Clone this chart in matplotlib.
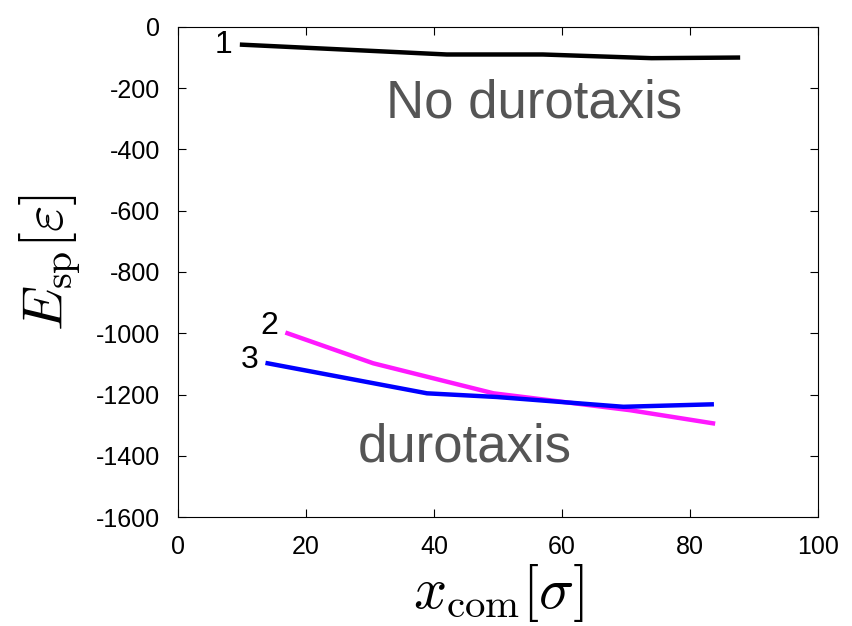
import numpy as np
import matplotlib
matplotlib.use('Agg')
from matplotlib import pyplot as plt

plt.rcParams['font.family'] = ['Liberation Sans', 'DejaVu Sans']
plt.rcParams['mathtext.fontset'] = 'cm'
plt.rcParams['axes.unicode_minus'] = False

# curve 1: no durotaxis
x1 = [10, 42, 57, 74, 87.5]
e1 = [-58, -90, -90, -102, -100]
# curve 2 (magenta)
x2 = [17.1, 30.5, 49.3, 70.6, 83.6]
e2 = [-1000, -1098, -1196, -1251, -1294]
# curve 3 (blue)
x3 = [14, 38.9, 49.8, 69.6, 83.4]
e3 = [-1098, -1196, -1208, -1240, -1232]

fig = plt.figure(figsize=(8.52, 6.26), dpi=100)
ax = fig.add_axes([0.209, 0.174, 0.751, 0.783])

ax.plot(x1, e1, color='black', lw=3.2)
ax.plot(x2, e2, color='#ff00ff', lw=3.2, alpha=0.9)
ax.plot(x3, e3, color='#0000ff', lw=3.2)

ax.text(x1[0] - 1.5, e1[0], '1', fontsize=23, ha='right', va='center')
ax.text(x2[0] - 1.5, e2[0] + 25, '2', fontsize=23, ha='right', va='center')
ax.text(x3[0] - 1.5, e3[0] + 10, '3', fontsize=23, ha='right', va='center')

ax.text(55.6, -250, 'No durotaxis', fontsize=38, color='#555555', ha='center', va='center')
ax.text(44.8, -1372, 'durotaxis', fontsize=38, color='#555555', ha='center', va='center')

ax.set_xlim(0, 100)
ax.set_ylim(-1600, 0)
ax.set_xticks(np.arange(0, 101, 20))
ax.set_yticks(np.arange(-1600, 1, 200))
ax.tick_params(direction='in', top=True, right=True, labelsize=18, length=6, pad=13)
ax.set_xlabel(r'$x_{\rm com}[\sigma]$', fontsize=42, labelpad=2)
ax.set_ylabel(r'$E_{\rm sp}[\varepsilon]$', fontsize=41, labelpad=9, y=0.52)

fig.savefig('out.png', dpi=100)
